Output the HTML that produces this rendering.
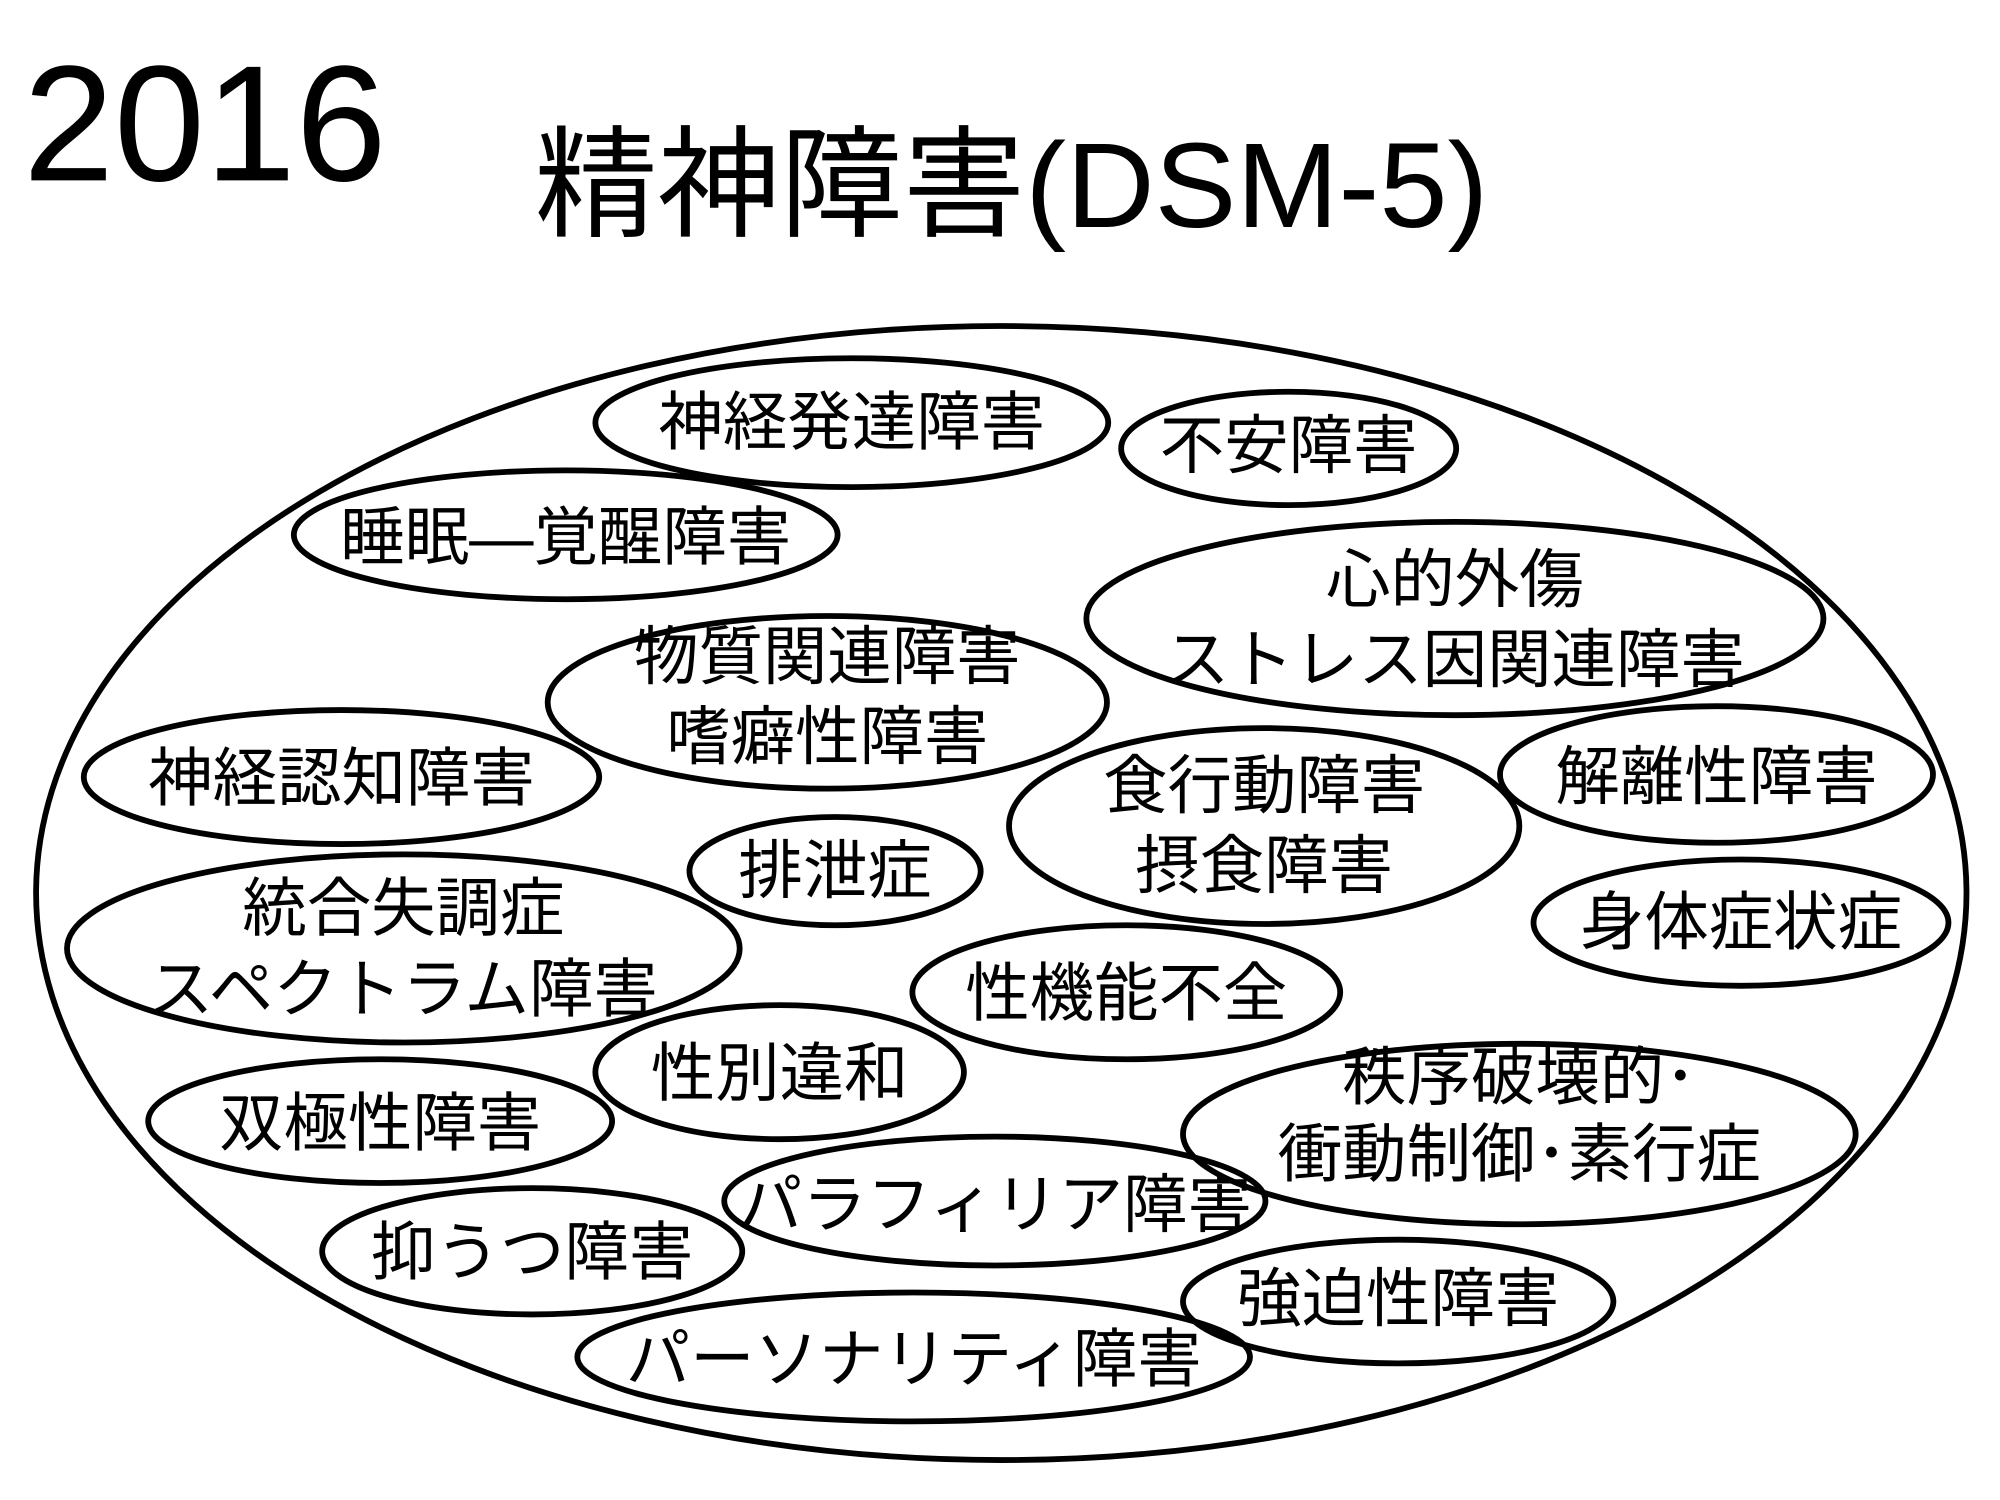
<!DOCTYPE html>
<html><head><meta charset="utf-8"><style>
html,body{margin:0;padding:0;background:#fff;width:2000px;height:1500px;overflow:hidden}
svg{display:block}
text{font-family:"Liberation Sans","Noto Sans CJK JP",sans-serif;fill:#000}
</style></head><body>
<svg width="2000" height="1500" viewBox="0 0 1552 1164" preserveAspectRatio="none">
<text x="18" y="140" font-size="128" textLength="282" lengthAdjust="spacingAndGlyphs">2016</text>
<text x="415" y="176" font-size="94" textLength="740" lengthAdjust="spacingAndGlyphs">精神障害(DSM-5)</text>
<g fill="none" stroke="#000" stroke-width="4.5">
<ellipse cx="777" cy="693" rx="749" ry="440"/>
<ellipse cx="661" cy="328" rx="199" ry="50"/>
<ellipse cx="1000" cy="348" rx="130" ry="44"/>
<ellipse cx="439" cy="415" rx="211" ry="50"/>
<ellipse cx="1129" cy="480" rx="286" ry="75"/>
<ellipse cx="642" cy="545" rx="217" ry="67"/>
<ellipse cx="265" cy="603" rx="200" ry="52"/>
<ellipse cx="1332" cy="601" rx="168" ry="53"/>
<ellipse cx="981" cy="641" rx="198" ry="76"/>
<ellipse cx="648" cy="676" rx="113" ry="42"/>
<ellipse cx="1351" cy="716" rx="161" ry="49"/>
<ellipse cx="313" cy="736" rx="261" ry="73"/>
<ellipse cx="874" cy="770" rx="166" ry="52"/>
<ellipse cx="605" cy="832" rx="143" ry="52"/>
<ellipse cx="1179" cy="880" rx="261" ry="70"/>
<ellipse cx="295" cy="870" rx="180" ry="48"/>
<ellipse cx="772" cy="932" rx="210" ry="50"/>
<ellipse cx="413" cy="971" rx="163" ry="49"/>
<ellipse cx="1085" cy="1010" rx="167" ry="48"/>
<ellipse cx="709" cy="1053" rx="261" ry="50"/>
</g>
<g font-size="50" text-anchor="middle" dominant-baseline="central">
<text x="661" y="328">神経発達障害</text>
<text x="1000" y="346">不安障害</text>
<text x="439" y="417">睡眠―覚醒障害</text>
<text x="1129" y="450">心的外傷</text>
<text x="1129" y="512">ストレス因関連障害</text>
<text x="642" y="510">物質関連障害</text>
<text x="642" y="572">嗜癖性障害</text>
<text x="265" y="604">神経認知障害</text>
<text x="1332" y="603">解離性障害</text>
<text x="981" y="610">食行動障害</text>
<text x="981" y="672">摂食障害</text>
<text x="648" y="676">排泄症</text>
<text x="1351" y="716">身体症状症</text>
<text x="313" y="705">統合失調症</text>
<text x="313" y="768">スペクトラム障害</text>
<text x="874" y="771">性機能不全</text>
<text x="605" y="833">性別違和</text>
<text x="1179" y="836">秩序破壊的･</text>
<text x="1179" y="896">衝動制御･素行症</text>
<text x="295" y="872">双極性障害</text>
<text x="772" y="935">パラフィリア障害</text>
<text x="413" y="972">抑うつ障害</text>
<text x="1085" y="1008">強迫性障害</text>
<text x="709" y="1055">パーソナリティ障害</text>
</g>
</svg>
</body></html>
